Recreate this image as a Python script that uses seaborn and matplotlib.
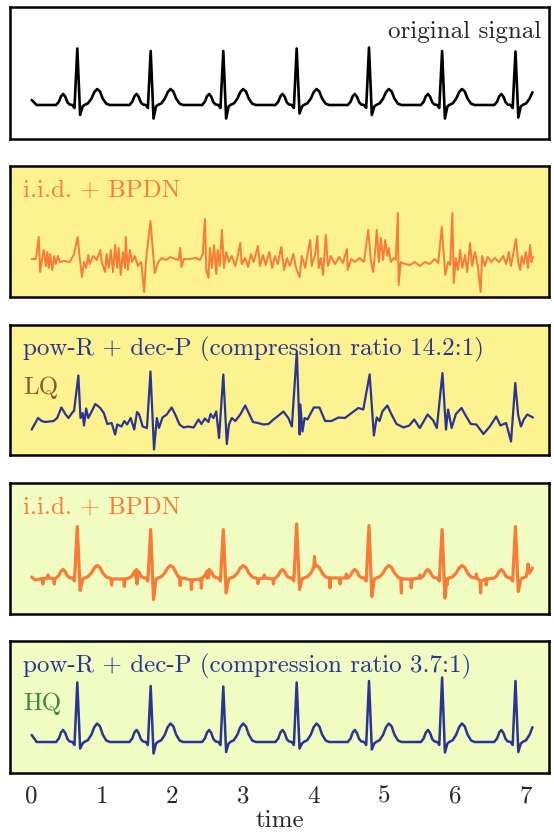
import matplotlib
matplotlib.use("Agg")
import numpy as np
import pandas as pd
import matplotlib.pyplot as plt
from matplotlib.ticker import FixedLocator, FormatStrFormatter
import seaborn as sns

# ── Data ─────────────────────────────────────────────────────────────────────
# R-peak times (s), shared by the ECG-like traces
R_TIMES = [0.655, 1.693, 2.720, 3.758, 4.781, 5.815, 6.853]

# one heartbeat, offsets relative to the R peak (s)
P_OFF   = [-0.30, -0.26, -0.23, -0.20, -0.17, -0.14, -0.11]
P_SHAPE = [0.0, 0.3, 0.8, 1.0, 0.75, 0.25, 0.05]
QRS_OFF = [-0.07, -0.04, 0.0, 0.04, 0.075]
T_OFF   = [0.10, 0.15, 0.20, 0.24, 0.28, 0.32, 0.36, 0.41, 0.46]
T_SHAPE = [0.0, 0.1, 0.4, 0.8, 1.0, 0.85, 0.4, 0.08, 0.0]

# original signal
ORIG_R = [1.13, 1.08, 1.08, 1.13, 1.15, 1.08, 1.07]
ORIG_S = [-0.20, -0.27, -0.27, -0.17, -0.20, -0.27, -0.25]

# i.i.d. + BPDN, high quality
HQ_IID_R = [1.03, 0.97, 0.97, 1.08, 1.05, 0.97, 1.03]
HQ_IID_S = [-0.25, -0.43, -0.30, -0.23, -0.37, -0.40, -0.27]
# sharp glitches: time, tip value, level around it
HQ_IID_SPIKE_T = [0.17, 0.24, 0.33, 1.14, 1.32, 1.50, 2.11, 2.27, 2.41, 2.50, 3.21, 3.30,
                  3.43, 4.01, 4.23, 4.37, 4.46, 5.24, 5.38, 5.50, 5.89, 6.30, 6.36, 6.44,
                  7.03]
HQ_IID_SPIKE_Y = [-0.08, 0.10, -0.08, -0.10, -0.13, -0.08, -0.11, -0.19, -0.16, 0.14, -0.07, 0.10,
                  -0.08, 0.47, -0.16, -0.08, 0.12, -0.26, -0.16, 0.10, -0.09, 0.12, -0.26, -0.10,
                  0.32]
HQ_IID_SPIKE_B = [0.03, 0.04, 0.03, 0.02, 0.02, 0.04, 0.02, 0.0, 0.02, 0.04, 0.02, 0.04,
                  0.02, 0.28, 0.04, 0.04, 0.04, 0.02, 0.02, 0.04, 0.02, 0.04, -0.02, 0.02,
                  0.18]

# pow-R + dec-P, high quality
HQ_POW_R = [1.19, 1.12, 1.11, 1.19, 1.22, 1.29, 1.22]
HQ_POW_S = [-0.13, -0.23, -0.20, -0.13, -0.15, -0.21, -0.20]

# i.i.d. + BPDN, low quality (vertices)
LQ_IID_T = [0.01, 0.07, 0.11, 0.13, 0.16, 0.18, 0.21, 0.23, 0.25, 0.27, 0.30, 0.33,
            0.35, 0.38, 0.41, 0.47, 0.55, 0.61, 0.66, 0.69, 0.72, 0.75, 0.78, 0.81,
            0.83, 0.88, 0.93, 0.98, 1.00, 1.05, 1.07, 1.10, 1.13, 1.16, 1.19, 1.22,
            1.24, 1.27, 1.30, 1.33, 1.34, 1.37, 1.40, 1.43, 1.47, 1.51, 1.56, 1.60,
            1.63, 1.69, 1.75, 1.80, 1.85, 1.91, 1.97, 2.04, 2.09, 2.11, 2.13, 2.16,
            2.25, 2.33, 2.39, 2.43, 2.46, 2.48, 2.51, 2.53, 2.56, 2.59, 2.62, 2.64,
            2.67, 2.70, 2.73, 2.76, 2.80, 2.84, 2.89, 2.93, 2.96, 2.98, 3.03, 3.07,
            3.11, 3.15, 3.21, 3.24, 3.28, 3.32, 3.37, 3.41, 3.45, 3.49, 3.54, 3.58,
            3.62, 3.66, 3.71, 3.75, 3.80, 3.83, 3.88, 3.92, 3.95, 3.97, 4.02, 4.05,
            4.07, 4.10, 4.13, 4.17, 4.20, 4.24, 4.30, 4.36, 4.41, 4.47, 4.48, 4.53,
            4.58, 4.65, 4.71, 4.77, 4.81, 4.84, 4.87, 4.89, 4.92, 4.95, 4.98, 5.01,
            5.04, 5.06, 5.09, 5.13, 5.16, 5.19, 5.20, 5.23, 5.29, 5.36, 5.43, 5.50,
            5.57, 5.64, 5.71, 5.76, 5.81, 5.86, 5.90, 5.93, 5.96, 5.98, 6.01, 6.04,
            6.07, 6.10, 6.14, 6.17, 6.21, 6.24, 6.28, 6.32, 6.36, 6.38, 6.42, 6.46,
            6.51, 6.56, 6.62, 6.68, 6.72, 6.76, 6.79, 6.83, 6.86, 6.89, 6.92, 6.94,
            6.97, 7.00, 7.03, 7.06, 7.08, 7.10]
LQ_IID_Y = [0.08, 0.08, 0.52, -0.18, 0.10, 0.26, -0.06, 0.22, -0.10, 0.18, -0.14, 0.14,
            -0.02, 0.14, 0.02, 0.04, 0.02, 0.18, 0.52, 0.10, -0.28, 0.02, -0.10, 0.16,
            -0.02, 0.14, 0.06, 0.26, 0.02, -0.18, 0.18, -0.10, 0.26, -0.18, 0.36, -0.10,
            0.30, -0.24, 0.22, -0.10, 0.52, -0.14, 0.26, 0.02, 0.14, -0.06, 0.02, -0.58,
            0.10, 0.84, -0.20, 0.02, 0.10, 0.06, 0.12, 0.08, 0.06, 0.30, -0.08, 0.08,
            0.08, 0.10, 0.06, 0.18, 0.88, -0.14, -0.30, 0.30, -0.10, 0.36, -0.22, 0.26,
            -0.06, 0.66, -0.10, 0.22, 0.02, 0.14, -0.06, 0.18, 0.40, -0.02, 0.10, -0.08,
            0.18, 0.02, 0.34, -0.06, 0.16, -0.04, 0.22, -0.10, 0.14, -0.02, 0.32, -0.14,
            0.10, -0.06, 0.18, -0.10, -0.28, 0.14, -0.10, 0.26, 0.46, -0.06, 0.18, 0.54,
            -0.10, 0.10, -0.24, 0.56, -0.06, 0.14, -0.02, 0.12, 0.00, 0.28, -0.14, 0.08,
            0.02, 0.10, 0.02, 0.66, 0.02, -0.18, 0.26, 0.66, 0.02, 0.50, 0.06, 0.46,
            0.14, 0.30, 0.02, 0.10, 0.06, 1.00, -0.44, 0.02, -0.02, -0.04, 0.02, -0.06,
            0.02, -0.02, 0.08, 0.00, 0.72, -0.24, 0.02, -0.04, 1.00, -0.40, 0.10, -0.14,
            0.26, -0.10, 0.16, -0.18, 0.40, -0.06, 0.22, -0.06, -0.58, 0.14, -0.06, 0.12,
            0.02, 0.10, 0.02, 0.14, -0.02, 0.22, -0.06, 0.26, 0.48, 0.02, -0.14, 0.14,
            -0.02, 0.22, -0.10, 0.36, 0.02, 0.12]

# pow-R + dec-P, low quality (vertices)
LQ_POW_T = [0.01, 0.10, 0.15, 0.20, 0.32, 0.37, 0.43, 0.49, 0.53, 0.58, 0.61, 0.67,
            0.70, 0.73, 0.75, 0.78, 0.81, 0.84, 0.91, 0.98, 1.03, 1.08, 1.14, 1.19,
            1.22, 1.28, 1.32, 1.36, 1.41, 1.46, 1.50, 1.53, 1.58, 1.64, 1.69, 1.74,
            1.78, 1.81, 1.86, 1.92, 1.99, 2.04, 2.10, 2.16, 2.22, 2.30, 2.37, 2.41,
            2.46, 2.51, 2.54, 2.58, 2.62, 2.66, 2.72, 2.77, 2.80, 2.84, 2.89, 2.96,
            3.03, 3.09, 3.14, 3.21, 3.29, 3.36, 3.43, 3.52, 3.57, 3.64, 3.69, 3.76,
            3.80, 3.81, 3.84, 3.87, 3.91, 4.00, 4.08, 4.16, 4.25, 4.35, 4.44, 4.63,
            4.70, 4.79, 4.85, 4.89, 4.93, 4.97, 5.04, 5.10, 5.17, 5.27, 5.35, 5.42,
            5.50, 5.61, 5.69, 5.74, 5.82, 5.87, 5.90, 5.95, 6.01, 6.09, 6.14, 6.22,
            6.30, 6.40, 6.49, 6.58, 6.64, 6.72, 6.79, 6.85, 6.89, 6.93, 6.97, 7.02,
            7.10]
LQ_POW_Y = [-0.17, 0.06, 0.00, -0.02, 0.00, 0.06, 0.27, 0.13, 0.06, 0.16, 0.21, 0.91,
            0.06, 0.16, -0.09, 0.25, 0.06, 0.14, 0.34, 0.26, 0.16, -0.06, -0.04, -0.27,
            -0.07, -0.11, 0.00, -0.07, 0.06, -0.17, 0.18, 0.13, -0.11, -0.14, 0.99, -0.57,
            0.06, -0.14, 0.07, 0.13, 0.27, 0.13, -0.07, -0.13, -0.11, -0.13, 0.03, -0.06,
            0.05, -0.02, 0.14, 0.06, 0.19, -0.34, 0.93, -0.46, -0.07, 0.06, 0.00, 0.13,
            0.31, 0.13, -0.02, -0.04, -0.07, -0.06, 0.03, 0.13, 0.19, 0.06, -0.11, 1.39,
            -0.27, 0.33, -0.21, 0.06, 0.03, 0.27, 0.27, 0.00, 0.00, 0.07, 0.06, 0.26,
            0.23, 0.93, -0.29, 0.07, 0.00, 0.19, 0.31, 0.13, -0.06, -0.13, -0.09, 0.03,
            -0.14, 0.13, 0.01, -0.14, 0.96, -0.17, 0.23, -0.14, 0.14, 0.26, 0.13, -0.06,
            -0.07, -0.26, -0.11, 0.09, -0.09, -0.04, -0.41, 0.76, 0.13, -0.11, 0.03, 0.13,
            0.07]

TICKS_EVEN = [0, 2, 4, 6]
TICKS_ODD = [1, 3, 5, 7]

ORANGE = "#fb7a36"
NAVY = "#2a3493"
YELLOW = "#fdf290"
LIME = "#f0fcc2"
FS = 18


def ecg_trace(r_amp, s_amp, p_amp, t_amp, base, head_t, head_y, t_end):
    ts, ys = list(head_t), list(head_y)
    for r, ra, sa in zip(R_TIMES, r_amp, s_amp):
        ts += [r + o for o in P_OFF]
        ys += [base + p_amp * v for v in P_SHAPE]
        ts += [r + o for o in QRS_OFF]
        ys += [base, base - 0.06, base + ra, base + sa, base - 0.03]
        ts += [r + o for o in T_OFF]
        ys += [base + t_amp * v for v in T_SHAPE]
    df = pd.DataFrame({"t": ts, "y": ys})
    return df[df.t <= t_end].reset_index(drop=True)


orig = ecg_trace(ORIG_R, ORIG_S, 0.22, 0.32, 0.0, [0.01, 0.08], [0.10, 0.0], 7.10)
hq_pow = ecg_trace(HQ_POW_R, HQ_POW_S, 0.24, 0.37, -0.06, [0.01, 0.08], [0.08, -0.06], 7.10)
hq_iid = ecg_trace(HQ_IID_R, HQ_IID_S, 0.17, 0.25, 0.04, [0.01, 0.06], [0.06, 0.0], 7.10)

# glitches: narrow three-vertex spikes
sp_t, sp_y = [], []
for t, y, b in zip(HQ_IID_SPIKE_T, HQ_IID_SPIKE_Y, HQ_IID_SPIKE_B):
    sp_t += [t - 0.008, t, t + 0.008]
    sp_y += [b, y, b]
hq_iid = (pd.concat([hq_iid, pd.DataFrame({"t": sp_t, "y": sp_y})])
          .sort_values("t", kind="stable").reset_index(drop=True))

lq_iid = pd.DataFrame({"t": LQ_IID_T, "y": LQ_IID_Y})
lq_pow = pd.DataFrame({"t": LQ_POW_T, "y": LQ_POW_Y})

# ── Figure ───────────────────────────────────────────────────────────────────
sns.set_style("white")
plt.rcParams["font.family"] = ["cmr10", "DejaVu Serif"]
plt.rcParams["mathtext.fontset"] = "cm"
plt.rcParams["axes.formatter.use_mathtext"] = True

W, H = 554, 834
fig = plt.figure(figsize=(W / 100, H / 100), dpi=100)

tops = [7, 166, 325, 483, 641]
bottoms = [139, 297, 455, 614, 773]
panels = [
    (orig, "black", 1.9, "white"),
    (lq_iid, ORANGE, 1.4, YELLOW),
    (lq_pow, NAVY, 1.6, YELLOW),
    (hq_iid, ORANGE, 2.3, LIME),
    (hq_pow, NAVY, 1.8, LIME),
]

axes = []
for i, (df, color, lw, bg) in enumerate(panels):
    top, bot = tops[i], bottoms[i]
    ax = fig.add_axes([10 / W, 1 - bot / H, 539 / W, (bot - top) / H])
    ax.set_facecolor(bg)
    sns.lineplot(data=df, x="t", y="y", ax=ax, color=color, linewidth=lw,
                 estimator=None, sort=False)
    ax.set_xlim(-0.297, 7.327)
    ax.set_ylim(-0.68, (bot - top - 34) / 50)
    ax.set_xlabel("")
    ax.set_ylabel("")
    ax.set_yticks([])
    ax.xaxis.set_major_locator(FixedLocator(TICKS_EVEN))
    ax.xaxis.set_minor_locator(FixedLocator(TICKS_ODD))
    ax.tick_params(axis="x", which="major", direction="in", length=8, width=0.9,
                   color="#a8a8a8", labelbottom=False, labelsize=FS, pad=9)
    ax.tick_params(axis="x", which="minor", direction="in", length=5, width=0.9,
                   color="#a8a8a8", labelbottom=False, labelsize=FS, pad=9)
    for s in ax.spines.values():
        s.set_linewidth(1.8)
        s.set_color("black")
    axes.append(ax)

ax1, ax2, ax3, ax4, ax5 = axes

ax1.text(1 - 8 / 539, 1 - 25 / 132, "original signal", transform=ax1.transAxes,
         ha="right", va="center", fontsize=FS)
for ax in (ax2, ax4):
    ax.text(13 / 539, 1 - 25 / 131, "i.i.d. + BPDN", transform=ax.transAxes,
            ha="left", va="center", fontsize=FS, color=ORANGE)
ax3.text(13 / 539, 1 - 25 / 131, "pow-R + dec-P (compression ratio 14.2:1)",
         transform=ax3.transAxes, ha="left", va="center", fontsize=FS, color=NAVY)
ax3.text(13 / 539, 1 - 63 / 131, "LQ", transform=ax3.transAxes,
         ha="left", va="center", fontsize=FS, color="#8c5a2b")
ax5.text(13 / 539, 1 - 25 / 132, "pow-R + dec-P (compression ratio 3.7:1)",
         transform=ax5.transAxes, ha="left", va="center", fontsize=FS, color=NAVY)
ax5.text(13 / 539, 1 - 63 / 132, "HQ", transform=ax5.transAxes,
         ha="left", va="center", fontsize=FS, color="#3b8a3b")

# bottom axis labels
ax5.xaxis.set_major_formatter(FormatStrFormatter("%d"))
ax5.xaxis.set_minor_formatter(FormatStrFormatter("%d"))
ax5.tick_params(axis="x", which="both", labelbottom=True)
ax5.set_xlabel("time", fontsize=FS, labelpad=1.5)

fig.savefig("out.png", dpi=100)
